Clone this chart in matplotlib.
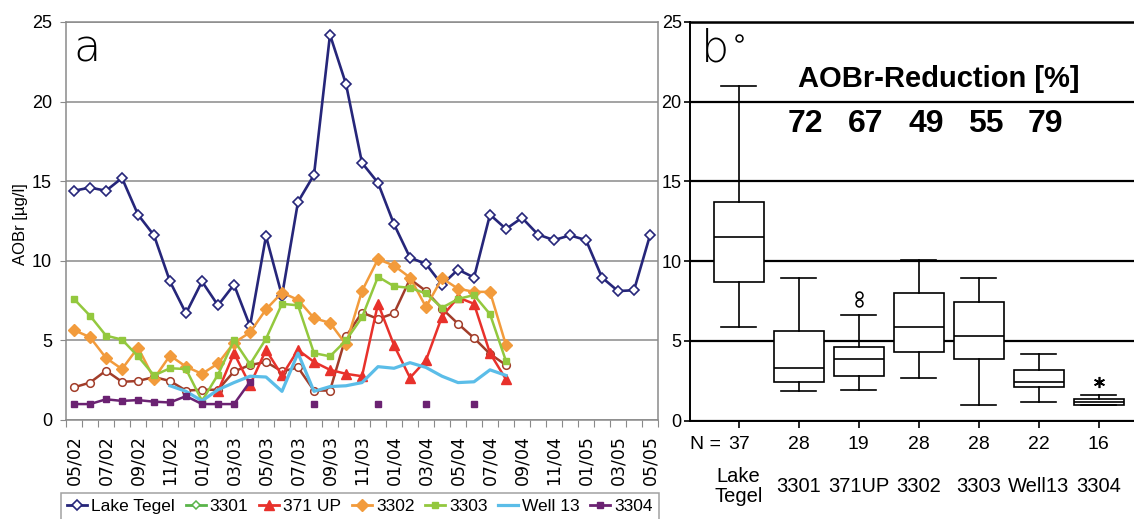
import numpy as np
import matplotlib
matplotlib.use("Agg")
import matplotlib.pyplot as plt
from matplotlib.lines import Line2D

plt.rcParams['font.family'] = ['Liberation Sans', 'DejaVu Sans']

nan = np.nan

# monthly samples 05/02 .. 05/05 (37 months)
tick_labels = ['05/02', '07/02', '09/02', '11/02', '01/03', '03/03', '05/03',
               '07/03', '09/03', '11/03', '01/04', '03/04', '05/04', '07/04',
               '09/04', '11/04', '01/05', '03/05', '05/05']

lake_tegel = [14.4, 14.6, 14.4, 15.2, 12.9, 11.6, 8.7, 6.7, 8.7, 7.2, 8.5, 5.9,
              11.55, 7.8, 13.7, 15.4, 24.2, 21.1, 16.15, 14.9, 12.3, 10.2, 9.8,
              8.5, 9.45, 8.95, 12.9, 12.0, 12.7, 11.65, 11.3, 11.6, 11.3, 8.95,
              8.1, 8.15, 11.6]
w3301 = [2.05, 2.35, 3.1, 2.4, 2.45, 2.7, 2.45, 1.85, 1.9, 1.9, 3.05, 3.45,
         3.65, 3.05, 3.3, 1.85, 1.85, 5.25, 6.75, 6.35, 6.7, 8.85, 8.1, 7.0,
         6.05, 5.15, 4.15, 3.45]
w371up = [nan] * 9 + [1.8, 4.2, 2.2, 4.4, 2.8, 4.4, 3.65, 3.15, 2.9, 2.75, 7.3,
                      4.7, 2.65, 3.75, 6.5, 7.7, 7.3, 4.2, 2.55]
w3302 = [5.65, 5.2, 3.9, 3.2, 4.55, 2.6, 4.05, 3.35, 2.9, 3.55, 4.85, 5.5,
         6.95, 8.0, 7.55, 6.4, 6.1, 4.75, 8.1, 10.1, 9.7, 8.95, 7.1, 8.9,
         8.25, 8.05, 8.05, 4.7]
w3303 = [7.6, 6.55, 5.3, 5.05, 4.0, 2.8, 3.25, 3.2, 1.2, 2.85, 5.0, 3.5, 5.1,
         7.3, 7.2, 4.2, 4.0, 5.0, 6.45, 9.0, 8.4, 8.3, 7.95, 7.05, 7.6, 7.85,
         6.65, 3.7]
well13 = [nan] * 6 + [2.15, 1.8, 1.2, 1.9, 2.35, 2.75, 2.7, 1.8, 4.2, 1.8, 2.1,
                      2.15, 2.35, 3.35, 3.25, 3.6, 3.3, 2.75, 2.35, 2.4, 3.15, 2.8]
w3304 = [1.0, 1.0, 1.3, 1.2, 1.25, 1.15, 1.1, 1.5, 1.0, 1.0, 1.0, 2.4, nan, nan,
         nan, 1.0, nan, nan, nan, 1.0, nan, nan, 1.0, nan, nan, 1.0]

# box plot statistics (panel b)
box_names = ['Lake\nTegel', '3301', '371UP', '3302', '3303', 'Well13', '3304']
box_n = [37, 28, 19, 28, 28, 22, 16]
whislo = [5.9, 1.85, 1.95, 2.7, 1.0, 1.2, 1.0]
q1 = [8.7, 2.45, 2.8, 4.3, 3.85, 2.1, 1.0]
med = [11.5, 3.3, 3.85, 5.9, 5.3, 2.45, 1.15]
q3 = [13.7, 5.6, 4.6, 8.0, 7.45, 3.2, 1.35]
whishi = [21.0, 8.95, 6.6, 10.1, 8.95, 4.2, 1.6]
outliers = [[24.0], [], [7.9, 7.4], [], [], [], []]
extremes = [[], [], [], [], [], [], [2.45]]
reduction = ['72', '67', '49', '55', '79']

fig = plt.figure(figsize=(11.34, 5.19), dpi=100)
W, H = 1134, 519

# ---------- panel a ----------
ax = fig.add_axes([66 / W, 1 - 420 / H, 592 / W, 398 / H])
x = np.arange(len(lake_tegel))
grey = '#8a8a8a'

def pad(v):
    return list(v) + [nan] * (len(lake_tegel) - len(v))

ax.plot(x, lake_tegel, color='#26267a', lw=1.9, marker='D', ms=5, mfc='white',
        mec='#26267a', mew=1.2, zorder=3)
ax.plot(x, pad(w3301), color='#a23d2a', lw=1.8, marker='o', ms=5.5, mfc='white',
        mec='#a23d2a', mew=1.1, zorder=3)
ax.plot(x, pad(w371up), color='#e8312b', lw=1.8, marker='^', ms=7, zorder=3)
ax.plot(x, pad(w3302), color='#f29b3c', lw=1.8, marker='D', ms=6, zorder=3)
ax.plot(x, pad(w3303), color='#93c83e', lw=1.8, marker='s', ms=4, zorder=3)
ax.plot(x, pad(well13), color='#5bbde8', lw=2.3, zorder=3)
ax.plot(x, pad(w3304), color='#6b2272', lw=1.8, marker='s', ms=4.5, zorder=3)

ax.set_xlim(-0.5, len(lake_tegel) - 0.5)
ax.set_ylim(0, 25)
ax.set_yticks([0, 5, 10, 15, 20, 25])
ax.grid(axis='y', color=grey, lw=1.1)
ax.set_axisbelow(True)
for s in ax.spines.values():
    s.set_color(grey)
    s.set_linewidth(1.1)
ax.set_xticks(np.arange(-0.5, len(lake_tegel), 1))
ax.set_xticklabels([])
ax.set_xticks(np.arange(0, len(lake_tegel), 2), minor=True)
ax.set_xticklabels(tick_labels, minor=True, rotation=90, fontsize=12.5,
                   family='DejaVu Sans')
ax.tick_params(axis='x', which='major', length=5, color=grey, direction='out')
ax.tick_params(axis='x', which='minor', length=0, pad=11)
ax.tick_params(axis='y', length=4, color=grey, labelsize=13, pad=6)
ax.text(0.012, 0.985, 'a', transform=ax.transAxes, fontsize=32, va='top',
        family='DejaVu Sans', fontweight='light')
fig.text(21 / W, 1 - 224 / H, 'AOBr [µg/l]', rotation=90, fontsize=12,
         va='center', ha='center')

handles = [
    Line2D([], [], color='#26267a', lw=2, marker='D', ms=5, mfc='white', mew=1.2),
    Line2D([], [], color='#5ab44a', lw=2, marker='D', ms=4, mfc='white', mew=1.1),
    Line2D([], [], color='#e8312b', lw=2, marker='^', ms=7),
    Line2D([], [], color='#f29b3c', lw=2, marker='D', ms=6),
    Line2D([], [], color='#93c83e', lw=2, marker='s', ms=4),
    Line2D([], [], color='#5bbde8', lw=2.3),
    Line2D([], [], color='#6b2272', lw=2, marker='s', ms=4.5),
]
labels = ['Lake Tegel', '3301', '371 UP', '3302', '3303', 'Well 13', '3304']
leg = fig.legend(handles, labels, loc='upper left', ncol=7,
                 bbox_to_anchor=(61 / W, 1 - 493 / H), borderaxespad=0,
                 fancybox=False, edgecolor=grey, handlelength=1.15,
                 handletextpad=0.25, columnspacing=0.6, borderpad=0.35,
                 prop={'size': 12.5})
leg.get_frame().set_linewidth(1.1)

# ---------- panel b ----------
bx = fig.add_axes([690 / W, 1 - 420.7 / H, 444 / W, 399 / H])
pos = np.arange(1, len(box_names) + 1)
stats = []
for i in range(len(box_names)):
    stats.append(dict(whislo=whislo[i], q1=q1[i], med=med[i], q3=q3[i],
                      whishi=whishi[i], fliers=outliers[i]))
bx.bxp(stats, positions=pos, widths=0.83, patch_artist=True,
       boxprops=dict(facecolor='white', edgecolor='black', lw=1.2),
       medianprops=dict(color='black', lw=1.2),
       whiskerprops=dict(color='black', lw=1.2),
       capprops=dict(color='black', lw=1.2),
       flierprops=dict(marker='o', ms=5, mfc='white', mec='black', mew=1.1),
       capwidths=0.58, zorder=3)
for i in range(len(box_names)):
    if extremes[i]:
        bx.plot([pos[i]] * len(extremes[i]), extremes[i], ls='none',
                marker=(6, 2, 0), ms=8, color='black', mew=1.2, zorder=4)

bx.set_xlim(0.19, 7.59)
bx.set_ylim(0, 25)
bx.set_yticks([0, 5, 10, 15, 20, 25])
bx.grid(axis='y', color='black', lw=1.6)
bx.set_axisbelow(True)
bx.spines['right'].set_visible(False)
bx.spines['top'].set_linewidth(1.8)
bx.spines['left'].set_linewidth(1.4)
bx.spines['bottom'].set_linewidth(1.4)
bx.set_xticks(pos)
bx.set_xticklabels([])
bx.tick_params(axis='x', length=5, width=1.2)
bx.tick_params(axis='y', length=4, width=1.2, pad=2, labelsize=13)

trans = bx.get_xaxis_transform()
bx.text(0.0, -0.06, 'N =', transform=bx.transAxes, fontsize=14,
        va='center', ha='left')
for i in range(len(box_names)):
    bx.text(pos[i], -0.06, str(box_n[i]), transform=trans, fontsize=14,
            va='center', ha='center')
    bx.text(pos[i], -0.165, box_names[i], transform=trans, fontsize=14.5,
            va='center', ha='center', linespacing=1.05)

bx.text(0.025, 0.985, 'b', transform=bx.transAxes, fontsize=32, va='top',
        family='DejaVu Sans', fontweight='light')
bx.text(4.33, 21.4, 'AOBr-Reduction [%]', fontsize=21, fontweight='bold',
        ha='center', va='center')
for i, r in enumerate(reduction):
    bx.text(pos[i + 1] + 0.12, 18.6, r, fontsize=23, fontweight='bold',
            ha='center', va='center')

fig.savefig('out.png', dpi=100)
